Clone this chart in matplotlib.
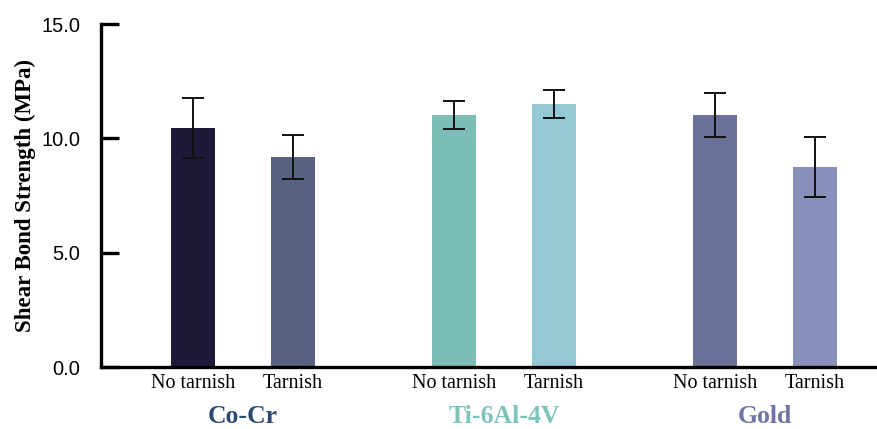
import numpy as np
import matplotlib.pyplot as plt
from matplotlib.transforms import blended_transform_factory

# data
alloys = ['Co-Cr', 'Ti-6Al-4V', 'Gold']
conditions = ['No tarnish', 'Tarnish']
means = [10.45, 9.17, 11.03, 11.50, 11.03, 8.76]
errors = [1.32, 0.96, 0.60, 0.60, 0.97, 1.32]

bar_colors = ['#1c1a38', '#56627e', '#7dbdb7', '#94c8d4', '#6b7099', '#8a90bc']
alloy_colors = ['#2b4a6f', '#7cc4bc', '#6f74a6']

# layout
group_gap = 2.61
offset = 0.5
centers = np.arange(len(alloys)) * group_gap
x = np.array([c + s * offset for c in centers for s in (-1, 1)])

fig = plt.figure(figsize=(8.77, 4.29), dpi=100)
ax = fig.add_axes([0.1152, 0.1445, 0.8848, 0.7995])

ax.bar(x, means, width=0.44, color=bar_colors, zorder=2)
ax.errorbar(x, means, yerr=errors, fmt='none', ecolor='#111111',
            elinewidth=1.4, capsize=8, capthick=1.4, zorder=3)

ax.set_xlim(-1.42, 6.34)
ax.set_ylim(0, 15)
ax.set_yticks([0, 5, 10, 15])
ax.set_yticklabels(['0.0', '5.0', '10.0', '15.0'],
                   family='Liberation Sans', fontsize=14.5)
ax.tick_params(axis='y', direction='in', length=13, width=2.4, pad=15)

ax.set_xticks(x)
ax.set_xticklabels(conditions * len(alloys), family='Liberation Serif', fontsize=14.5)
ax.tick_params(axis='x', length=0, pad=5)

for side in ['top', 'right']:
    ax.spines[side].set_visible(False)
for side in ['left', 'bottom']:
    ax.spines[side].set_linewidth(2.4)

ax.set_ylabel('Shear Bond Strength (MPa)', family='Liberation Serif',
              fontweight='bold', fontsize=16.5, labelpad=4)

trans = blended_transform_factory(ax.transData, ax.transAxes)
for c, name, col in zip(centers, alloys, alloy_colors):
    ax.text(c, -0.145, name, transform=trans, ha='center', va='center',
            family='Liberation Serif', fontweight='bold', fontsize=18.5, color=col)

fig.savefig('out.png', dpi=100)
